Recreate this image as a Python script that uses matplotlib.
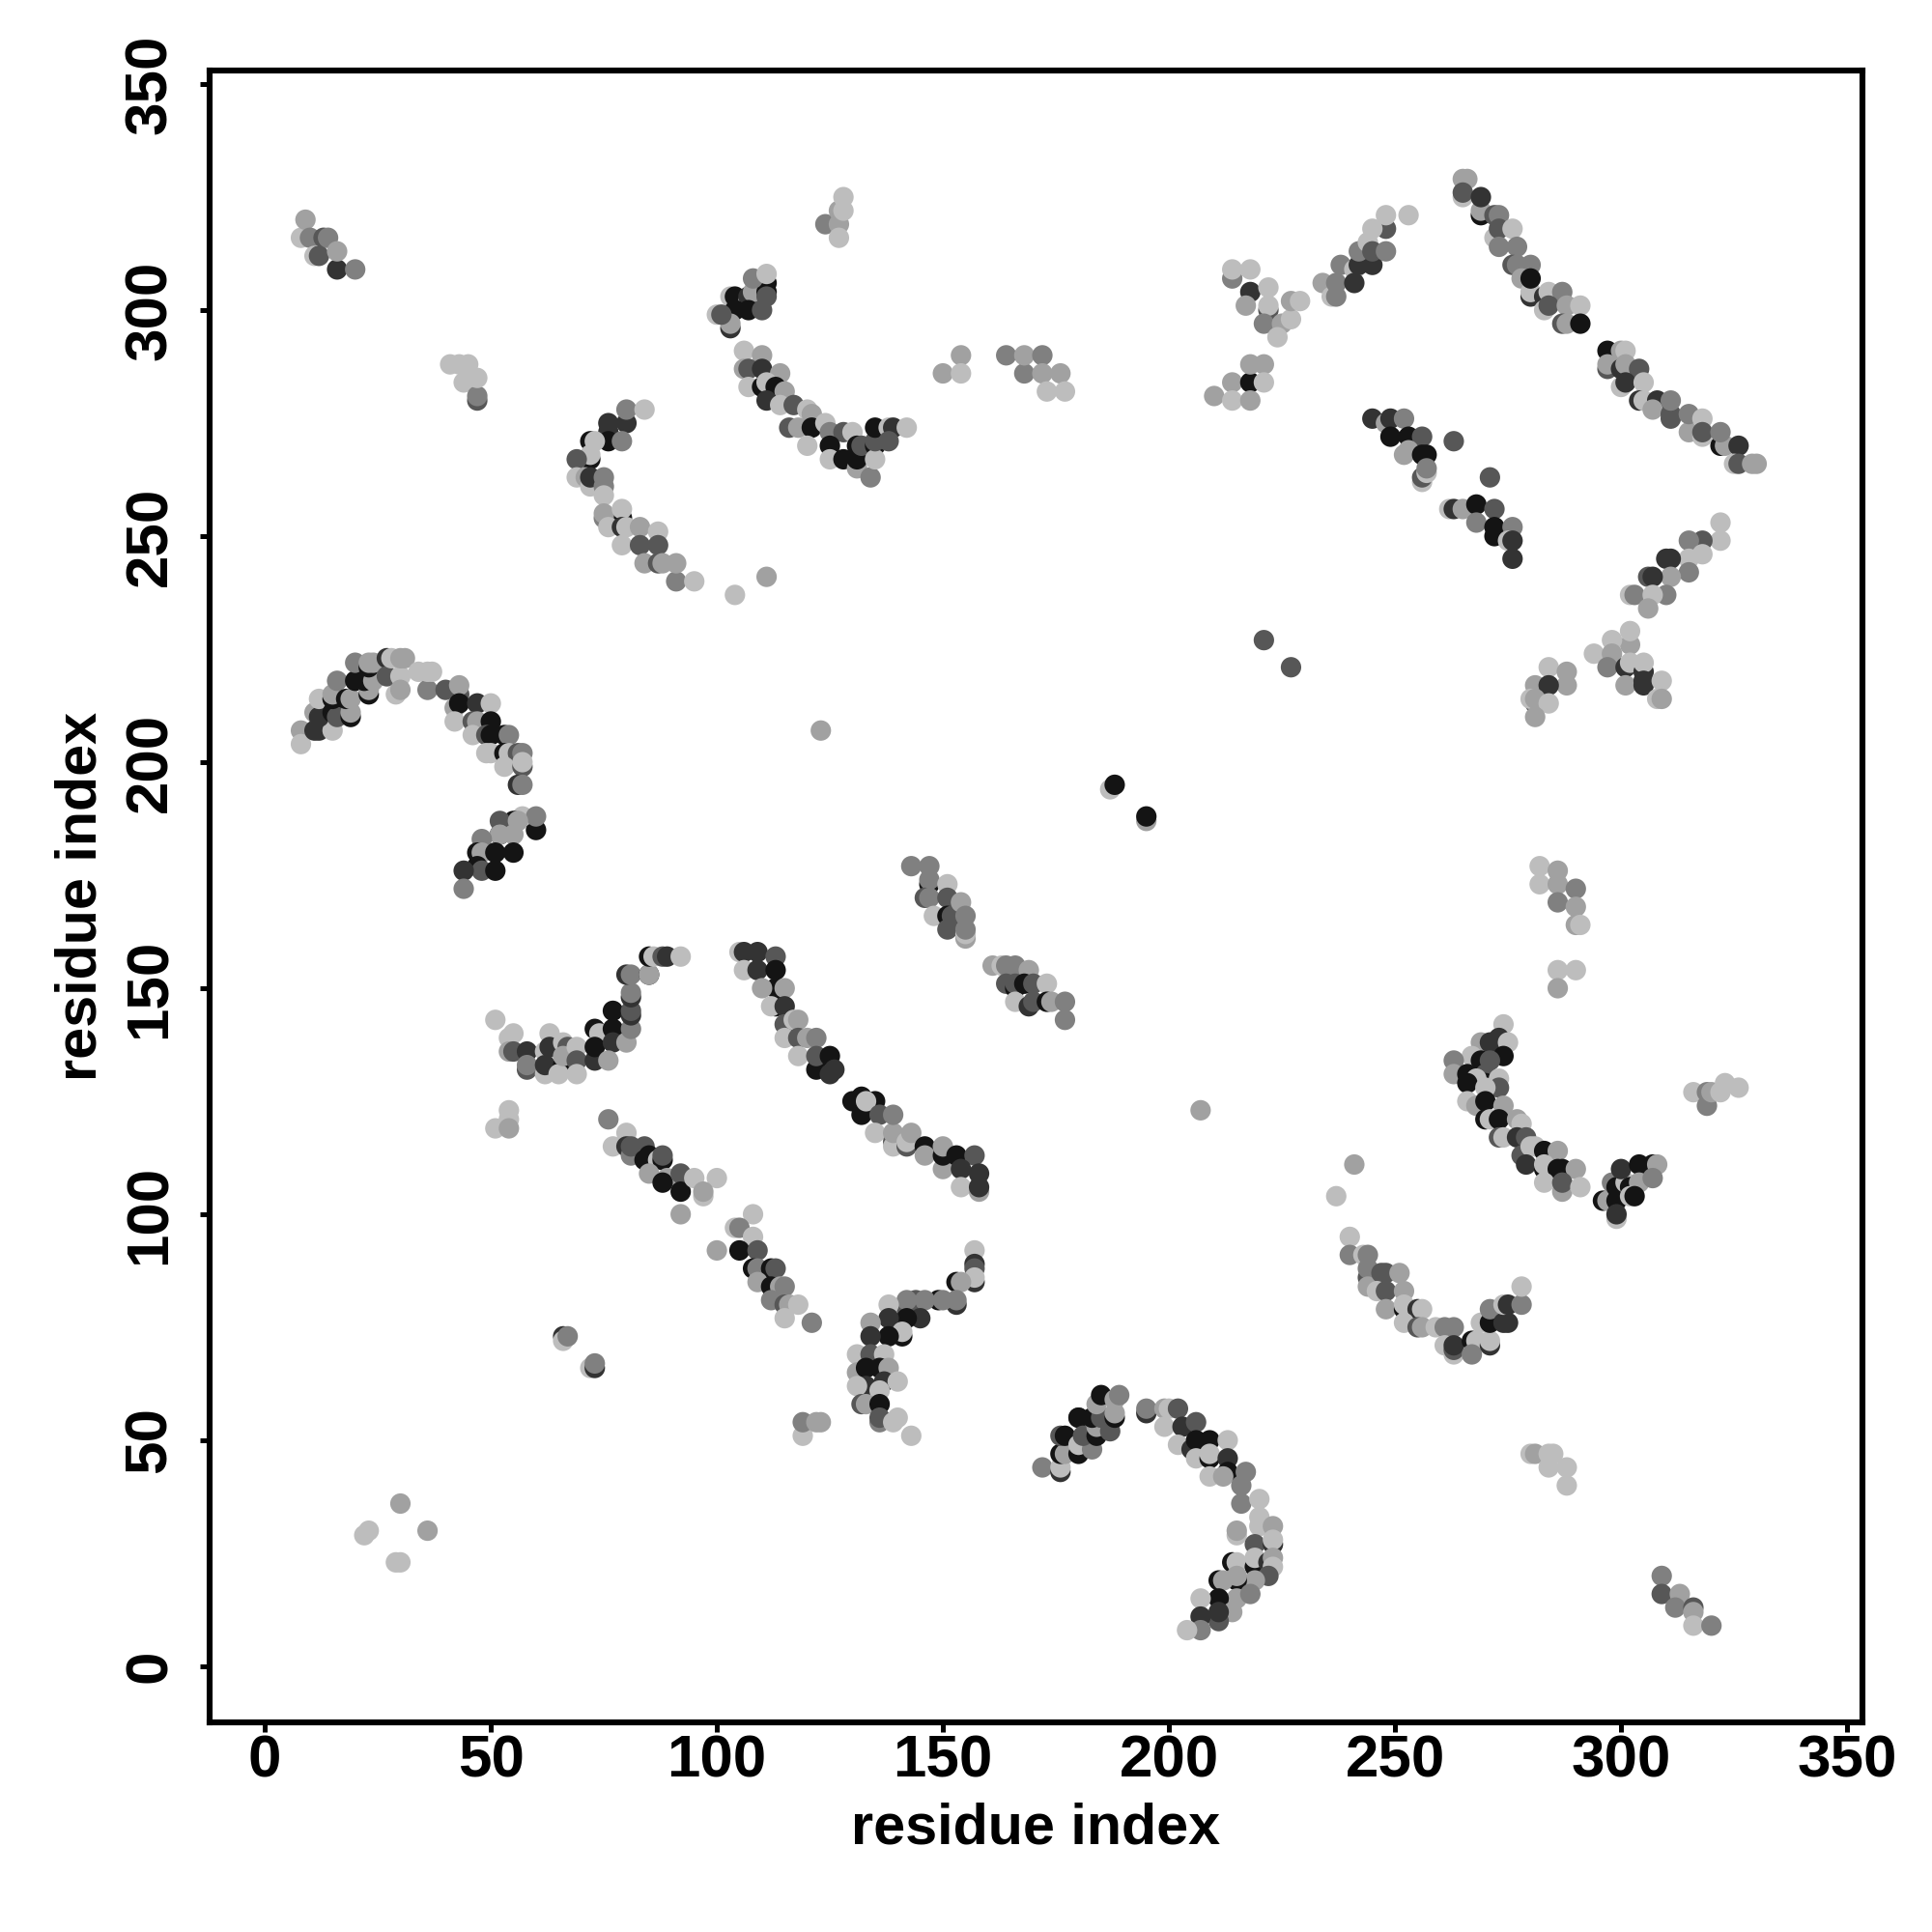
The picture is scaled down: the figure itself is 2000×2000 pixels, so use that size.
import matplotlib
matplotlib.use('Agg')
import matplotlib.pyplot as plt

# (residue i, residue j, shade level) 1 = darkest, 6 = lightest
strand_a = [(8,316,6),(9,320,5),(10,316,4),(11,312,6),(12,312,3),(13,316,3),(14,316,4),(16,309,2),(16,313,5),(20,309,4)]
strand_b = [(41,288,6),(43,288,6),(44,284,6),(45,288,6),(47,280,3),(47,281,4),(47,285,6)]
arc_c = [(72,271,1),(72,267,1),(79,254,1),(76,275,2),(76,273,2),(80,275,2),(76,271,1),(80,278,4),(84,278,6),(79,271,4),
         (73,271,6),(72,268,6),(69,267,3),(69,263,6),(71,263,5),(72,261,6),(72,263,2),(75,263,4),(75,261,4),(75,259,6),
         (75,254,4),(75,255,5),(79,256,6),(76,252,6),(79,252,2),(80,252,6),(79,248,6),(83,252,5),(87,251,6),(83,248,3),
         (87,248,3),(84,244,5),(87,244,3),(88,244,5),(91,240,4),(91,244,5),(95,240,6),(111,241,5),(104,237,6)]
cap_d = [(111,306,1),(103,303,6),(104,303,1),(107,302,6),(107,303,2),(108,304,5),(107,300,1),(104,300,1),(103,296,2),(103,297,5),
         (100,299,6),(101,299,3),(111,304,1),(111,303,3),(110,300,3),(108,307,4),(111,308,6)]
arc_e = [(106,291,6),(110,290,5),(106,287,5),(107,287,3),(110,287,2),(114,286,5),(107,283,6),(110,283,1),(111,284,6),(113,283,1),
         (115,282,5),(111,280,2),(114,279,6),(117,279,3),(120,278,6),(121,277,5),(116,274,3),(118,274,5),(121,274,1),(124,275,6),
         (125,273,4),(128,273,3),(130,273,6),(120,270,6),(125,270,1),(125,267,6),(128,267,1),(131,265,5),(131,267,1),(131,270,1),
         (132,270,3),(134,263,4),(135,270,1),(135,267,6),(135,271,3),(135,274,1),(138,274,6),(139,274,2),(138,271,3),(142,274,6),
         (150,286,5),(154,290,5),(154,286,6)]
spot_f = [(124,319,4),(127,319,5),(127,322,5),(127,316,6),(128,322,6),(128,325,6)]
spot_g = [(164,290,4),(168,286,4),(168,290,5),(172,290,4),(172,286,5),(173,282,6),(176,286,5),(177,282,6)]
spot_h = [(214,307,4),(214,309,6),(218,309,6),(218,304,2),(222,305,6),(217,301,5),(222,300,3),(222,301,6),(221,297,4),(225,297,5),
          (227,298,6),(227,302,5),(229,302,6),(224,294,6),(210,281,5),(214,284,5),(214,280,6),(218,284,1),(218,280,5),(218,288,5),(221,288,5),(221,284,6)]
chain_i = [(234,306,5),(236,303,6),(237,303,4),(237,306,4),(238,310,4),(241,309,6),(241,306,2),(242,310,2),(245,310,2),(242,313,4),
           (244,315,6),(245,313,3),(248,313,4),(248,318,3),(245,318,6),(248,321,6),(253,321,6)]
diag_j = [(265,329,5),(266,329,5),(265,325,6),(265,326,3),(269,321,1),(269,322,5),(269,325,2),(272,321,3),(273,321,4),(272,316,6),
          (273,318,3),(276,318,6),(273,314,4),(277,314,4),(276,310,3),(277,310,4),(280,310,4),(278,307,5),(280,303,2),(280,304,6),
          (280,307,1),(283,303,2),(284,304,6),(287,304,4),(283,300,6),(284,301,3),(288,301,5),(291,301,6),(287,297,3),(288,297,5),(291,297,1)]
diag_k = [(297,291,1),(300,291,5),(301,291,6),(297,287,3),(297,288,5),(300,287,2),(301,288,5),(304,287,3),(300,283,6),(301,284,2),
          (305,284,6),(304,280,2),(305,280,6),(308,280,2),(307,278,5),(311,276,3),(311,277,3),(311,280,4),(315,273,5),(315,277,4),
          (318,272,6),(318,276,6),(318,273,3),(322,270,1),(323,270,5),(322,273,4),(326,270,2),(325,266,6),(326,266,3),(329,266,5),(330,266,5)]
run_l = [(245,276,2),(248,275,5),(249,276,2),(252,276,4),(249,272,1),(253,272,1),(256,272,3),(252,268,5),(253,269,5),(256,268,1),
         (257,268,1),(256,262,6),(256,263,3),(257,264,6),(257,265,4),(263,271,3),(271,263,3)]
run_m = [(262,256,6),(263,256,2),(265,256,5),(268,257,1),(272,256,3),(268,253,4),(272,252,1),(276,252,4),(272,250,1),(275,249,6),
         (276,249,2),(276,245,2)]
chain_n = [(322,253,6),(322,249,6),(318,249,3),(315,249,4),(318,246,6),(315,245,6),(310,245,2),(311,245,2),(315,242,4),(311,241,5),
           (306,241,3),(307,241,2),(310,237,4),(302,237,6),(303,237,4),(307,237,6),(306,234,5)]
patch_o = [(302,226,5),(302,229,6),(298,227,6),(294,224,6),(298,224,5),(297,221,4),(301,221,2),(302,222,6),(305,220,2),(305,222,6),
           (301,217,5),(305,217,2),(305,218,2),(309,218,6),(308,214,6),(309,214,5)]
patch_p = [(284,221,6),(288,220,5),(288,217,5),(281,217,5),(284,217,2),(281,213,3),(280,214,6),(281,214,5),(284,213,6),(281,210,5)]
lone_q = [(221,227,3),(227,221,3),(123,207,5),(207,123,5),(187,194,6),(188,195,1),(195,187,5),(195,188,1)]
arc_r = [(8,207,5),(8,204,6),(11,207,2),(12,207,2),(15,207,6),(11,211,5),(12,210,2),(12,214,6),(15,211,1),(16,210,3),
         (15,214,1),(15,215,5),(16,218,4),(19,210,1),(19,211,5),(18,214,1),(19,214,5),(20,218,1),(20,222,4),(23,215,1),
         (23,216,5),(22,218,1),(24,218,5),(23,221,1),(23,222,5),(24,222,5),(27,223,2),(27,219,3),(28,223,6),(30,219,6),
         (30,223,5),(31,223,5),(29,215,6),(30,216,5),(34,220,6),(36,216,4),(36,220,6),(37,220,6),(40,216,3),(43,215,3),
         (43,217,5),(42,212,5),(43,213,1),(47,213,2),(50,213,6),(42,209,6),(46,209,3),(47,209,5),(50,209,1),(46,206,6),
         (49,206,3),(50,206,1),(53,206,1),(54,206,4),(49,202,6),(50,202,6),(53,202,1),(54,202,6),(56,202,3),(57,202,4),
         (53,199,6),(57,199,3),(57,200,6),(56,195,2),(57,195,4)]
arc_s = [(60,185,1),(57,188,6),(60,188,4),(55,187,1),(52,187,3),(56,187,5),(52,184,1),(52,184,5),(55,184,5),(55,180,1),
         (48,183,4),(47,180,1),(48,180,5),(51,180,1),(47,177,1),(48,176,3),(51,176,1),(44,176,2),(44,172,4)]
hook_t = [(51,143,6),(54,139,6),(55,140,6),(54,136,5),(55,136,3),(58,136,2),(63,140,6),(62,136,6),(63,137,2),(58,132,3),
          (58,133,4),(62,131,6),(62,133,2),(66,133,1),(66,138,6),(67,137,3),(65,131,6),(66,135,5),(69,137,6),(69,134,3),
          (69,131,6),(73,134,2),(73,141,1),(74,140,6),(73,137,1),(77,145,1),(77,141,1),(77,138,2),(76,134,5),(80,138,5),
          (81,141,4),(81,144,2),(81,145,3),(81,148,2),(81,149,4),(80,153,2),(81,153,4),(85,153,1),(85,153,5),(85,157,1),
          (86,157,6),(88,157,3),(89,157,2),(92,157,6)]
curve_u = [(105,158,6),(106,158,2),(109,158,2),(113,157,3),(106,154,6),(109,154,2),(113,154,1),(113,150,1),(115,150,5),(110,150,5),
           (113,146,1),(112,146,6),(115,146,2),(115,142,3),(117,143,6),(118,143,5),(115,139,6),(118,139,3),(120,139,5),(122,139,4),
           (118,135,6),(122,132,1),(122,135,3),(125,135,1),(125,131,2),(126,132,2),(132,126,1),(130,125,1),(132,122,1),(135,125,1),
           (133,125,6),(136,122,3),(135,118,6),(139,116,3),(139,115,6),(139,118,5),(139,122,4),(142,115,3),(142,116,6),(143,118,5),
           (146,115,1),(146,113,5),(150,110,5),(150,113,1),(150,115,5),(153,113,1),(157,113,3),(154,110,2),(154,106,6),(158,105,5),
           (158,106,2),(158,109,2)]
run_v = [(76,121,4),(77,115,6),(80,118,6),(80,115,2),(81,113,4),(81,115,3),(84,115,3),(84,112,1),(85,113,1),(87,112,6),
         (88,112,1),(88,113,3),(85,109,5),(89,108,5),(88,107,1),(92,109,3),(92,105,1),(95,108,6),(100,108,6),(97,104,6),
         (97,105,5),(54,123,6),(54,121,6),(51,119,6),(54,119,5)]
run_w = [(92,100,5),(108,100,6),(104,97,6),(105,97,4),(108,95,6),(100,92,5),(105,92,1),(109,92,3),(108,88,1),(109,88,4),
         (112,88,1),(113,88,3),(109,85,5),(112,84,1),(114,84,5),(115,84,4),(112,81,4),(115,80,3),(116,80,5),(118,80,6),
         (115,77,6),(121,76,4)]
pair_x = [(66,73,2),(66,72,6),(67,73,4),(72,66,6),(73,66,2),(73,67,4),(119,51,6),(119,54,4),(122,54,5),(123,54,5)]
arc_y = [(157,92,6),(157,89,2),(157,88,3),(157,85,2),(157,86,6),(153,85,1),(154,85,5),(153,80,2),(153,81,4),(149,81,1),
         (150,81,4),(144,81,3),(146,81,4),(142,79,3),(142,81,4),(138,80,6),(145,77,2),(142,77,1),(138,77,2),(141,73,1),
         (141,74,6),(138,73,1),(134,76,5),(134,73,2),(131,69,6),(134,69,3),(137,69,6),(131,65,5),(133,66,1),(136,66,1),
         (138,66,5),(133,62,2),(131,62,6),(137,63,2),(136,61,6),(140,63,6),(132,58,3),(133,58,5),(136,58,1),(136,54,4),
         (136,55,3),(140,55,6),(139,54,6),(143,51,6)]
arc_z = [(172,44,4),(176,43,2),(176,44,6),(176,47,1),(177,47,5),(176,51,3),(177,51,1),(180,47,1),(180,49,6),(183,48,4),
         (180,55,3),(180,55,1),(181,51,3),(184,51,1),(184,53,5),(187,52,3),(183,55,1),(185,55,3),(188,55,1),(188,56,5),
         (184,58,5),(185,60,1),(188,59,5),(189,60,4)]
arc_aa = [(195,56,2),(195,57,4),(199,57,5),(200,57,6),(202,57,3),(199,53,6),(203,53,2),(202,49,6),(206,54,3),(205,48,2),
          (206,50,1),(209,50,1),(213,50,6),(206,46,6),(209,46,1),(209,47,6),(213,46,2),(213,43,1),(209,42,6),(212,42,5),
          (217,43,4),(216,40,4),(216,36,4),(220,37,6),(220,33,6),(215,29,6),(215,30,5),(220,31,6),(223,31,5),(219,27,3),
          (223,27,2),(223,28,6),(214,23,1),(215,23,6),(219,22,1),(219,24,6),(222,23,2),(223,24,5),(223,22,6),(222,20,3),
          (219,19,5),(215,19,1),(215,20,5),(211,19,1),(212,19,5),(215,15,5),(218,16,4),(211,15,1),(214,12,5),(211,10,3),
          (211,12,2),(207,15,6),(207,11,2),(207,8,4),(204,8,6)]
curve_ab = [(274,142,6),(269,138,5),(273,139,2),(271,138,2),(275,138,6),(274,135,1),(267,135,6),(263,134,4),(269,134,1),(271,134,3),
            (270,131,3),(263,131,5),(266,131,1),(270,129,1),(268,130,6),(273,130,6),(273,128,3),(266,129,1),(270,128,6),(266,125,6),
            (268,124,5),(270,125,1),(274,124,5),(270,121,1),(271,121,6),(273,121,1),(277,121,5),(278,120,6),(273,117,3),(274,117,6),
            (277,117,2),(279,117,3),(278,113,3),(280,115,6),(281,115,6),(283,114,1),(286,114,5),(279,111,2),(283,110,1),(283,111,6),
            (286,110,1),(287,110,1),(290,110,5),(283,107,6),(287,105,5),(287,107,3),(291,106,6)]
cap_ac = [(296,103,1),(297,103,5),(299,103,1),(299,99,6),(299,100,2),(298,107,4),(299,106,1),(301,107,6),(300,110,2),(302,106,1),
          (304,111,1),(307,111,1),(308,111,5),(304,107,5),(307,108,4),(302,104,6),(303,104,1),(316,127,6),(319,127,4),(319,124,4),
          (320,127,5),(323,129,6),(322,127,6),(326,128,6)]
curve_ad = [(240,95,6),(240,91,4),(243,91,6),(244,86,3),(244,88,4),(244,91,4),(244,84,5),(247,87,3),(248,87,3),(251,87,5),
            (246,83,6),(248,83,3),(252,83,5),(248,79,5),(252,79,1),(252,80,6),(255,79,2),(256,79,6),(252,76,6),(255,75,3),
            (256,75,5),(259,75,6),(261,75,4),(263,75,4),(261,71,6),(263,69,6),(263,70,3),(263,71,2),(267,72,1),(268,72,6),
            (267,69,4),(271,71,2),(271,72,6),(269,76,6),(271,76,1),(271,79,4),(274,76,2),(275,76,2),(274,80,6),(275,80,2),
            (278,80,4),(278,84,6),(241,111,5),(237,104,6)]
stub_ae = [(143,177,4),(147,177,4),(147,173,1),(147,174,4),(151,173,6),(146,170,3),(147,170,4),(148,166,6),(151,170,3),(151,166,1),
           (152,166,3),(151,163,3),(154,169,5),(155,161,5),(155,162,6),(155,163,4),(155,166,4)]
stub_af = [(161,155,5),(163,155,6),(164,155,4),(166,155,4),(169,154,5),(164,151,3),(166,150,1),(166,151,3),(166,147,6),(168,151,1),
           (170,151,3),(173,151,6),(169,146,2),(170,147,3),(173,147,1),(174,147,5),(177,147,4),(177,143,4)]
spot_ag = [(282,177,6),(282,173,6),(286,176,5),(286,173,5),(286,169,4),(290,172,4),(290,168,5),(290,164,5),(291,164,6),
           (286,154,6),(286,150,5),(290,154,6),(280,47,6),(281,47,5),(284,47,6),(285,47,6),(284,44,6),(288,44,6),(288,40,6)]
spot_ah = [(22,29,6),(23,30,6),(30,36,5),(36,30,5),(29,23,6),(30,23,6),
           (309,20,4),(309,16,3),(313,16,5),(312,13,4),(316,13,3),(316,12,5),(316,9,6),(320,9,4)]

strands = [strand_a, strand_b, arc_c, cap_d, arc_e, spot_f, spot_g, spot_h, chain_i, diag_j, diag_k, run_l, run_m,
           chain_n, patch_o, patch_p, lone_q, arc_r, arc_s, hook_t, curve_u, run_v, run_w, pair_x, arc_y, arc_z,
           arc_aa, curve_ab, cap_ac, curve_ad, stub_ae, stub_af, spot_ag, spot_ah]
shades = {1: '0.08', 2: '0.2', 3: '0.34', 4: '0.5', 5: '0.63', 6: '0.74'}
ticks = [0, 50, 100, 150, 200, 250, 300, 350]

plt.rcParams['font.family'] = ['Liberation Sans', 'DejaVu Sans']
plt.rcParams['font.weight'] = 'bold'

fig = plt.figure(figsize=(10, 10), dpi=200)
ax = fig.add_axes([0.1085, 0.1085, 0.8555, 0.8550])

for strand in strands:
    x = [p[0] for p in strand]
    y = [p[1] for p in strand]
    c = [shades[p[2]] for p in strand]
    ax.scatter(x, y, c=c, s=58, linewidths=0, zorder=2, clip_on=False)

ax.set_xlim(-12.2, 353.4)
ax.set_ylim(-12.4, 353)
ax.set_xticks(ticks)
ax.set_yticks(ticks)
ax.tick_params(axis='both', length=3.5, width=1.8, labelsize=22.3)
ax.tick_params(axis='x', pad=1)
ax.tick_params(axis='y', pad=8)
for lab in ax.get_yticklabels():
    lab.set_rotation(90)
    lab.set_va('center')
for s in ax.spines.values():
    s.set_linewidth(2.2)
ax.set_xlabel('residue index', fontsize=21.4, fontweight='bold')
ax.set_ylabel('residue index', fontsize=21.4, fontweight='bold')
ax.xaxis.set_label_coords(0.5, -0.0485)
ax.yaxis.set_label_coords(-0.0619, 0.5)

plt.savefig('out.png')
